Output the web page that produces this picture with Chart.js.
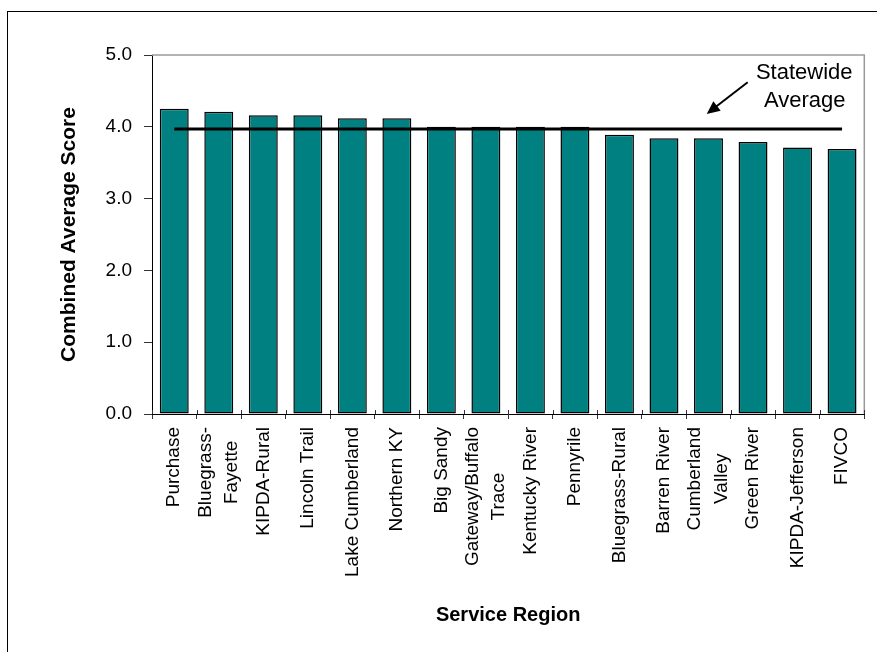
<!DOCTYPE html>
<html><head><meta charset="utf-8">
<script src="https://cdn.jsdelivr.net/npm/chart.js@4/dist/chart.umd.min.js"></script>
<style>html,body{margin:0;padding:0;background:#fff;}canvas{display:block;}</style>
</head><body>
<canvas id="c" width="877" height="652"></canvas>
<script>
// ---- data ----
const regions = [
  ["Purchase"], ["Bluegrass-", "Fayette"], ["KIPDA-Rural"], ["Lincoln Trail"],
  ["Lake Cumberland"], ["Northern KY"], ["Big Sandy"], ["Gateway/Buffalo", "Trace"],
  ["Kentucky River"], ["Pennyrile"], ["Bluegrass-Rural"], ["Barren River"],
  ["Cumberland", "Valley"], ["Green River"], ["KIPDA-Jefferson"], ["FIVCO"]
];
const scores = [4.25, 4.21, 4.16, 4.16, 4.12, 4.12, 4.00, 4.00, 4.00, 4.00, 3.89, 3.84, 3.84, 3.79, 3.71, 3.69];
const statewideAverage = [3.97, 3.97, 3.97, 3.97, 3.97, 3.97, 3.97, 3.97, 3.97, 3.97, 3.97, 3.97, 3.97, 3.97, 3.97, 3.97];
const yTickValues = [0, 1, 2, 3, 4, 5];
const yTickLabels = ["0.0", "1.0", "2.0", "3.0", "4.0", "5.0"];
const annotationLines = ["Statewide", "Average"];

const FONT = '"Liberation Sans", Arial, Helvetica, sans-serif';

// Center multi-line rotated category labels (lines centred on each other and on the tick)
function patchLabels(scale) {
  if (scale._centerPatched) return;
  scale._centerPatched = true;
  const orig = scale._computeLabelItems;
  scale._computeLabelItems = function (ca) {
    const items = orig.call(this, ca);
    const ctx = this.ctx;
    items.forEach(it => {
      if (Array.isArray(it.label) && it.label.length > 1) {
        const n = it.label.length;
        const lh = it.font.lineHeight;
        ctx.save();
        ctx.font = it.font.string;
        const maxW = Math.max(...it.label.map(t => ctx.measureText(t).width));
        ctx.restore();
        it.textOffset -= (n - 1) * lh / 2;
        it.options.textAlign = 'center';
        it.options.translation = [it.options.translation[0], it.options.translation[1] + maxW / 2];
      }
    });
    return items;
  };
}

const decorPlugin = {
  id: 'decor',
  beforeDraw(chart) {
    const ctx = chart.ctx;
    ctx.save();
    ctx.fillStyle = '#fff';
    ctx.fillRect(0, 0, chart.width, chart.height);
    ctx.strokeStyle = '#000';
    ctx.lineWidth = 1;
    ctx.strokeRect(7.5, 11.5, chart.width + 20, chart.height + 20);
    ctx.restore();
  },
  beforeDatasetsDraw(chart) {
    const {ctx, chartArea: a} = chart;
    const xs = chart.scales.x;
    ctx.save();
    ctx.strokeStyle = '#9a9a9a';
    ctx.lineWidth = 1.5;
    ctx.beginPath();
    ctx.moveTo(a.left, a.top);
    ctx.lineTo(a.right, a.top);
    ctx.lineTo(a.right, a.bottom);
    ctx.stroke();
    // small inner part of the category tick marks
    ctx.strokeStyle = '#333';
    ctx.lineWidth = 1;
    ctx.beginPath();
    for (let i = 0; i <= regions.length; i++) {
      const px = Math.round(xs.getPixelForValue(i - 0.5)) + 0.5;
      ctx.moveTo(px, a.bottom - 4);
      ctx.lineTo(px, a.bottom);
    }
    ctx.stroke();
    ctx.restore();
  },
  afterDraw(chart) {
    const ctx = chart.ctx;
    const xs = chart.scales.x, ys = chart.scales.y;
    ctx.save();
    ctx.fillStyle = '#000';
    ctx.font = '22px ' + FONT;
    ctx.textAlign = 'center';
    ctx.textBaseline = 'alphabetic';
    ctx.fillText(annotationLines[0], xs.getPixelForValue(14.15), ys.getPixelForValue(4.67));
    ctx.fillText(annotationLines[1], xs.getPixelForValue(14.16), ys.getPixelForValue(4.27));
    // arrow
    const x1 = xs.getPixelForValue(12.88), y1 = ys.getPixelForValue(4.62);
    const x2 = xs.getPixelForValue(11.96), y2 = ys.getPixelForValue(4.18);
    const ang = Math.atan2(y2 - y1, x2 - x1);
    const hl = 13, hw = 6;
    ctx.strokeStyle = '#000';
    ctx.lineWidth = 2;
    ctx.beginPath();
    ctx.moveTo(x1, y1);
    ctx.lineTo(x2 - Math.cos(ang) * hl * 0.8, y2 - Math.sin(ang) * hl * 0.8);
    ctx.stroke();
    ctx.beginPath();
    ctx.moveTo(x2, y2);
    ctx.lineTo(x2 - Math.cos(ang) * hl - Math.sin(ang) * hw, y2 - Math.sin(ang) * hl + Math.cos(ang) * hw);
    ctx.lineTo(x2 - Math.cos(ang) * hl + Math.sin(ang) * hw, y2 - Math.sin(ang) * hl - Math.cos(ang) * hw);
    ctx.closePath();
    ctx.fill();
    ctx.restore();
  }
};

new Chart(document.getElementById('c'), {
  type: 'bar',
  data: {
    labels: regions,
    datasets: [
      {
        type: 'line', data: statewideAverage, borderColor: '#000', borderWidth: 3,
        pointRadius: 0, fill: false, order: 0, tension: 0
      },
      {
        type: 'bar', data: scores, backgroundColor: '#008080', borderColor: '#000',
        borderWidth: 1.5, borderSkipped: false, barPercentage: 0.65, categoryPercentage: 1, order: 1
      }
    ]
  },
  options: {
    responsive: false,
    animation: false,
    devicePixelRatio: 1,
    layout: {padding: {top: 55, right: 11, left: 0, bottom: 0}},
    plugins: {legend: {display: false}, tooltip: {enabled: false}},
    scales: {
      x: {
        offset: true,
        grid: {offset: true, drawOnChartArea: false, drawTicks: true, tickLength: 5, color: '#333'},
        border: {display: true, color: '#000', width: 1},
        ticks: {
          autoSkip: false, maxRotation: 90, minRotation: 90, padding: 8, color: '#000',
          font: {family: FONT, size: 19, lineHeight: 1.4}
        },
        title: {
          display: true, text: 'Service Region', color: '#000',
          font: {family: FONT, size: 20, weight: 'bold'}, padding: {top: 0, bottom: 25}
        },
        afterUpdate(s) { patchLabels(s); },
        afterFit(s) { patchLabels(s); s.height = 238; }
      },
      y: {
        min: 0, max: 5,
        afterBuildTicks(s) { s.ticks = yTickValues.map(v => ({value: v})); },
        grid: {drawOnChartArea: false, drawTicks: true, tickLength: 8, color: '#333'},
        border: {display: true, color: '#000', width: 1},
        ticks: {
          padding: 12, color: '#000',
          font: {family: FONT, size: 19},
          callback: (v) => yTickLabels[yTickValues.indexOf(v)]
        },
        title: {
          display: true, text: 'Combined Average Score', color: '#000',
          font: {family: FONT, size: 21, weight: 'bold'}, padding: {top: 57, bottom: 0}
        },
        afterFit(s) { s.width = 152; }
      }
    }
  },
  plugins: [decorPlugin]
});
</script>
</body></html>
